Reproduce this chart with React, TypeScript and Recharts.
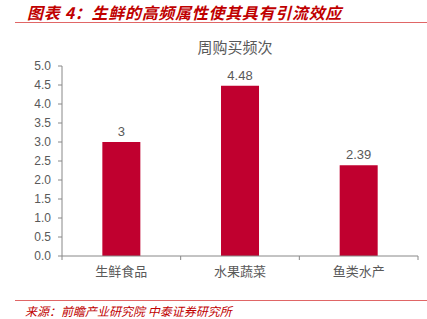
import React from 'react'
import { BarChart, Bar, XAxis, YAxis, LabelList } from 'recharts'

const categories = ['生鲜食品', '水果蔬菜', '鱼类水产']
const weeklyFreq = [3, 4.48, 2.39]
const yTicks = [0, 0.5, 1, 1.5, 2, 2.5, 3, 3.5, 4, 4.5, 5]

const data = categories.map((name, i) => ({ name, value: weeklyFreq[i] }))

const CJK = '"Noto Sans CJK SC", "Noto Sans", sans-serif'
const GREY = '#595959'
const RED = '#C0002F'

function CategoryTick(props: any) {
  const { x, y, payload, index, width } = props
  const half = width / categories.length / 2
  return (
    <g>
      {index === 0 && <line x1={x - half} y1={y - 8} x2={x - half} y2={y - 4} stroke="#888" />}
      <line x1={x + half} y1={y - 8} x2={x + half} y2={y - 4} stroke="#888" />
      <text x={x} y={y + 12} textAnchor="middle" fill={GREY} fontSize={13} fontFamily={CJK}>
        {payload.value}
      </text>
    </g>
  )
}

export default function App() {
  return (
    <div style={{ position: 'absolute', left: 0, top: 0, width: 427, height: 319, background: '#fff', fontFamily: CJK, overflow: 'hidden' }}>
      <div style={{ position: 'absolute', left: 27, top: 2, fontSize: 16, lineHeight: '20px', fontWeight: 'bold', fontStyle: 'italic', color: '#C00000', whiteSpace: 'nowrap', letterSpacing: 0.7 }}>
        图表 4：生鲜的高频属性使其具有引流效应
      </div>
      <div style={{ position: 'absolute', left: 15, right: 0, top: 22, height: 1, background: '#E06666' }} />
      <div style={{ position: 'absolute', left: 0, width: 470, top: 37, lineHeight: '20px', textAlign: 'center', fontSize: 15, color: GREY }}>
        周购买频次
      </div>
      <div style={{ position: 'absolute', left: 0, top: 0 }}>
        <BarChart width={427} height={319} data={data} margin={{ top: 66, right: 9, left: 0, bottom: 33 }} barCategoryGap="34%">
          <YAxis
            domain={[0, 5]}
            ticks={yTicks}
            interval={0}
            width={62}
            tickFormatter={(v: number) => v.toFixed(1)}
            tick={{ fontSize: 12, fill: GREY, fontFamily: 'Liberation Sans, Arial, sans-serif' }}
            axisLine={{ stroke: '#888' }}
            tickLine={{ stroke: '#888' }}
            tickSize={4}
            tickMargin={7}
          />
          <XAxis
            dataKey="name"
            height={30}
            axisLine={{ stroke: '#888' }}
            tickLine={false}
            tick={<CategoryTick width={356} />}
            interval={0}
          />
          <Bar dataKey="value" fill={RED} isAnimationActive={false}>
            <LabelList dataKey="value" position="top" offset={6} fill={GREY} fontSize={13} fontFamily="Liberation Sans, Arial, sans-serif" />
          </Bar>
        </BarChart>
      </div>
      <div style={{ position: 'absolute', left: 15, right: 0, top: 300, height: 1, background: '#E06666' }} />
      <div style={{ position: 'absolute', left: 25, top: 304, fontSize: 12, lineHeight: '14px', color: '#C00000', whiteSpace: 'nowrap', fontStyle: 'italic' }}>
        来源：前瞻产业研究院 中泰证券研究所
      </div>
    </div>
  )
}
